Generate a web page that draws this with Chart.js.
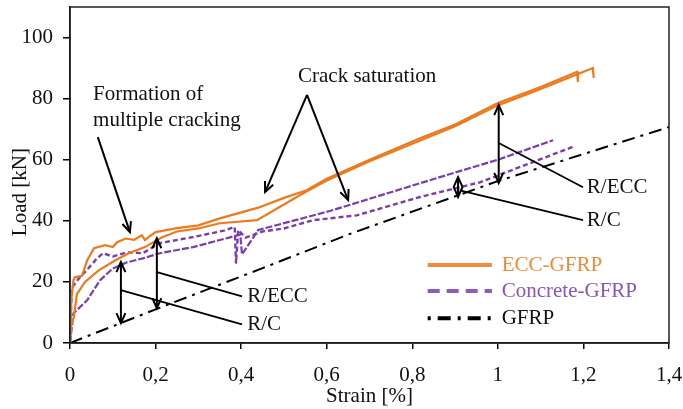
<!DOCTYPE html>
<html><head><meta charset="utf-8">
<script src="https://cdn.jsdelivr.net/npm/chart.js@4.4.1/dist/chart.umd.min.js"></script>
<style>html,body{margin:0;padding:0;background:#fff}#wrap{width:683px;height:409px}</style>
</head><body><div id="wrap"><canvas id="c" width="683" height="409"></canvas></div>
<script>
// ---- data ----
const xTickLabels = ['0','0,2','0,4','0,6','0,8','1','1,2','1,4'];
const yTickLabels = ['0','20','40','60','80','100'];

const eccAStrain = [0,0.003,0.008,0.011,0.028,0.04,0.056,0.082,0.1,0.11,0.13,0.15,0.168,0.175,0.185,0.2,0.25,0.3,0.35,0.44,0.5,0.553,0.6,0.7,0.818,0.9,1.0,1.1,1.185,1.187];
const eccALoad   = [0,14,20.5,21.5,22,27,31,32,31.4,33,34.2,33.8,35.3,33.7,34.8,36.3,37.6,38.5,40.8,44.3,47.5,50,53.8,60,67,71.5,78.6,83.8,88.8,85.5];

const eccBStrain = [0,0.003,0.009,0.016,0.035,0.067,0.105,0.137,0.175,0.215,0.25,0.3,0.35,0.437,0.545,0.6,0.7,0.82,0.9,1.0,1.1,1.222,1.224];
const eccBLoad   = [0,6,8.4,16,20,23.8,27,29.4,31.4,34.6,36.5,37.5,39.2,40.2,49,53.2,59.5,66.4,71,77.8,83.2,90,86.8];

const conAStrain = [0,0.004,0.02,0.04,0.063,0.077,0.1,0.133,0.17,0.21,0.288,0.36,0.385,0.388,0.393,0.41,0.45,0.5,0.568,0.67,0.818,0.958,1.175];
const conALoad   = [0,18,21,24,27.7,29.4,28.3,29.7,29.4,32.7,34.7,36.8,38,26,37,34.5,36.5,37.5,40.2,41.8,47.8,52.6,64.2];

const conBStrain = [0,0.008,0.04,0.07,0.1,0.133,0.17,0.21,0.288,0.374,0.398,0.402,0.44,0.607,0.818,0.9,1.0,1.129];
const conBLoad   = [0,9.7,14,20.5,24.4,26.4,27.7,29.4,31.4,34.6,35.5,29,37,43.2,52.3,55.8,60,66.4];

const gfrpStrain = [0,0.2,0.45,0.65,1.0,1.4];
const gfrpLoad   = [0,11,24.5,35.5,53,70.7];

const seriesNames = ['ECC-GFRP','Concrete-GFRP','GFRP'];
const axisTitles = {x: 'Strain [%]', y: 'Load [kN]'};

// ---- styling / layout ----
const ORANGE = '#EE7A1E', PURPLE = '#7A3DB0', BLACK = '#000';
const FONT = "'Liberation Serif', 'Times New Roman', serif";
const toXY = (xs, ys) => xs.map((x, i) => ({x, y: ys[i]}));

const annotations = {
  texts: [
    {t:'Formation of', x:0.054, y:81.2},
    {t:'multiple cracking', x:0.054, y:73},
    {t:'Crack saturation', x:0.533, y:87.1},
    {t:'R/ECC', x:1.208, y:51},
    {t:'R/C', x:1.208, y:40.2},
    {t:'R/ECC', x:0.414, y:15.3},
    {t:'R/C', x:0.414, y:6.1}
  ],
  arrows: [
    {x1:0.065,y1:67.4,x2:0.14,y2:36.3},
    {x1:0.554,y1:81.2,x2:0.456,y2:49.4},
    {x1:0.554,y1:81.2,x2:0.650,y2:46.8}
  ],
  doubles: [
    {x:1.002, y1:77.9, y2:52.4},
    {x:0.907, y1:54.3, y2:47.8},
    {x:0.203, y1:34.3, y2:11.4},
    {x:0.119, y1:26.5, y2:6.5}
  ],
  leaders: [
    {x1:1.002,y1:65.5,x2:1.199,y2:51},
    {x1:0.911,y1:50,x2:1.199,y2:40.2},
    {x1:0.203,y1:23.2,x2:0.402,y2:15.3},
    {x1:0.119,y1:17.3,x2:0.402,y2:6.1}
  ]
};
const legendLayout = {x1:0.836, x2:0.986, tx:1.009, ys:[25.5,17,8.1]};
const yTitlePos = {x: 20, yValue: 49.4};

function head(ctx, x1, y1, x2, y2) {
  const a = Math.atan2(y2 - y1, x2 - x1), L = 11, s = 0.42;
  ctx.beginPath();
  ctx.moveTo(x2 - L * Math.cos(a - s), y2 - L * Math.sin(a - s));
  ctx.lineTo(x2, y2);
  ctx.lineTo(x2 - L * Math.cos(a + s), y2 - L * Math.sin(a + s));
  ctx.stroke();
}

const overlay = {
  id: 'overlay',
  afterDatasetsDraw(chart) {
    const {ctx, chartArea: ca, scales: {x, y}} = chart;
    const px = v => x.getPixelForValue(v), py = v => y.getPixelForValue(v);
    ctx.save();
    // plot frame
    ctx.strokeStyle = '#222'; ctx.lineWidth = 1.5; ctx.setLineDash([]);
    ctx.strokeRect(ca.left, ca.top, ca.right - ca.left, ca.bottom - ca.top);
    // annotations
    ctx.strokeStyle = BLACK; ctx.lineWidth = 2;
    annotations.arrows.forEach(a => {
      ctx.beginPath(); ctx.moveTo(px(a.x1), py(a.y1)); ctx.lineTo(px(a.x2), py(a.y2)); ctx.stroke();
      head(ctx, px(a.x1), py(a.y1), px(a.x2), py(a.y2));
    });
    annotations.doubles.forEach(d => {
      const X = px(d.x), A = py(d.y1), B = py(d.y2);
      ctx.beginPath(); ctx.moveTo(X, A); ctx.lineTo(X, B); ctx.stroke();
      head(ctx, X, B, X, A); head(ctx, X, A, X, B);
    });
    ctx.lineWidth = 1.8;
    annotations.leaders.forEach(l => {
      ctx.beginPath(); ctx.moveTo(px(l.x1), py(l.y1)); ctx.lineTo(px(l.x2), py(l.y2)); ctx.stroke();
    });
    ctx.fillStyle = '#111'; ctx.font = '21px ' + FONT;
    ctx.textAlign = 'left'; ctx.textBaseline = 'middle';
    annotations.texts.forEach(t => ctx.fillText(t.t, px(t.x), py(t.y)));
    // legend
    const styles = [
      {c:'#F08A3C', dash:[], tc:'#F08A3C'},
      {c:'#8A5CC0', dash:[12,7], tc:'#8A55C0'},
      {c:BLACK, dash:[3,7,13,7], tc:'#111'}
    ];
    seriesNames.forEach((n, i) => {
      const Y = py(legendLayout.ys[i]);
      ctx.strokeStyle = styles[i].c; ctx.lineWidth = 4; ctx.setLineDash(styles[i].dash);
      ctx.beginPath(); ctx.moveTo(px(legendLayout.x1), Y); ctx.lineTo(px(legendLayout.x2), Y); ctx.stroke();
      ctx.setLineDash([]);
      ctx.fillStyle = styles[i].tc;
      ctx.fillText(n, px(legendLayout.tx), Y);
    });
    // y-axis title
    ctx.fillStyle = '#111';
    ctx.translate(yTitlePos.x, py(yTitlePos.yValue));
    ctx.rotate(-Math.PI / 2);
    ctx.textAlign = 'center'; ctx.textBaseline = 'middle';
    ctx.fillText(axisTitles.y, 0, 0);
    ctx.restore();
  }
};

const lineBase = {pointRadius: 0, tension: 0, fill: false, parsing: true};
new Chart(document.getElementById('c'), {
  type: 'line',
  data: {
    datasets: [
      {...lineBase, label: seriesNames[0], data: toXY(eccAStrain, eccALoad), borderColor: ORANGE, borderWidth: 2.2},
      {...lineBase, label: seriesNames[0], data: toXY(eccBStrain, eccBLoad), borderColor: ORANGE, borderWidth: 2.2},
      {...lineBase, label: seriesNames[1], data: toXY(conAStrain, conALoad), borderColor: PURPLE, borderWidth: 2.4, borderDash: [5,3]},
      {...lineBase, label: seriesNames[1], data: toXY(conBStrain, conBLoad), borderColor: PURPLE, borderWidth: 2.2, borderDash: [7,2]},
      {...lineBase, label: seriesNames[2], data: toXY(gfrpStrain, gfrpLoad), borderColor: BLACK, borderWidth: 2, borderDash: [13,6,3,6]}
    ]
  },
  options: {
    responsive: false, animation: false, devicePixelRatio: 1,
    layout: {padding: {top: 7, right: 14, left: 0, bottom: 0}},
    plugins: {legend: {display: false}, tooltip: {enabled: false}},
    scales: {
      x: {
        type: 'linear', min: 0, max: 1.4,
        afterFit: s => { s.height = 66; s.paddingLeft = 0; s.paddingRight = 0; },
        ticks: {stepSize: 0.2, color: '#111', font: {family: FONT, size: 21}, padding: 14, maxRotation: 0,
                callback: v => xTickLabels[Math.round(v / 0.2)]},
        grid: {drawOnChartArea: false, drawTicks: true, tickLength: 6, color: '#000', lineWidth: 1.5},
        border: {display: true, color: '#000', width: 1.5},
        title: {display: true, text: axisTitles.x, color: '#111', font: {family: FONT, size: 21}, padding: {top: 0, bottom: 0}}
      },
      y: {
        min: 0, max: 110,
        afterFit: s => { s.width = 70; s.paddingTop = 0; s.paddingBottom = 0; },
        ticks: {stepSize: 20, includeBounds: false, color: '#111', font: {family: FONT, size: 21}, padding: 10,
                callback: v => yTickLabels[Math.round(v / 20)]},
        grid: {drawOnChartArea: false, drawTicks: true, tickLength: 7, color: '#000', lineWidth: 1.5},
        border: {display: true, color: '#000', width: 1.5},
        title: {display: false}
      }
    }
  },
  plugins: [overlay]
});
</script>
</body></html>
